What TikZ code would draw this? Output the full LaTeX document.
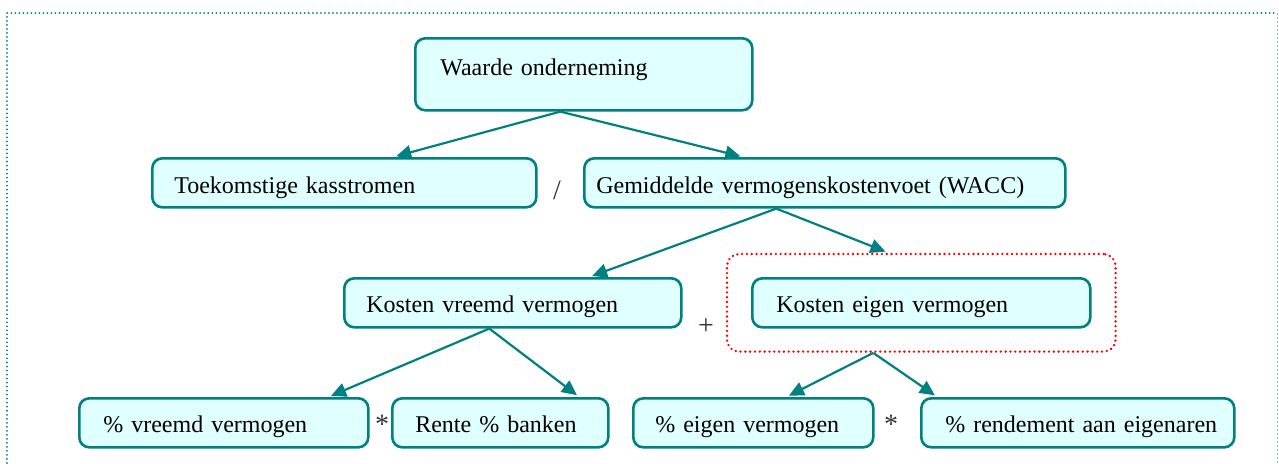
\documentclass[tikz,border=0pt]{standalone}
\usepackage{fontspec}
\setmainfont{Liberation Serif}
\usetikzlibrary{arrows.meta,fit}
\definecolor{tealc}{HTML}{008080}
\definecolor{cyanc}{HTML}{E0FFFF}
\definecolor{tealfaint}{HTML}{80C0C0}
\begin{document}
\begin{tikzpicture}[x=0.5pt,y=-0.5pt,
  box/.style={draw=tealc, fill=cyanc, line width=1.3pt, rounded corners=5pt,
    inner ysep=0pt, inner xsep=0pt, anchor=north west, align=left,
    font=\fontsize{12}{14}\selectfont},
  lpad/.style={execute at begin node={\hspace*{#1}}},
  rowb/.style={text height=17.5pt, text depth=7pt},
  rowc/.style={text height=17pt, text depth=7.5pt},
  rowd/.style={text height=17pt, text depth=7.5pt},
  arr/.style={draw=tealc, line width=1.1pt, shorten >=1.5pt, -{Triangle[length=7.5pt,width=7pt]}},
  op/.style={font=\fontsize{14}{16}\selectfont, text=black!80, inner sep=0pt},
  framedots/.style={draw=tealc, line width=1pt, dash pattern=on 0.01pt off 2pt, line cap=round},
  framefaint/.style={draw=tealfaint, line width=0.5pt, dash pattern=on 1pt off 1pt},
  reddots/.style={draw=red, line width=1.3pt, dash pattern=on 0.01pt off 2.4pt, line cap=round}]
\useasboundingbox (0,0) rectangle (1279,463);
\draw[framedots] (7,463) -- (7,13) -- (1277,13);
\draw[framefaint] (1277,13) -- (1277,463);

\node[box, lpad=12.5pt, text width=168.5pt, text height=18.5pt, text depth=17.5pt] (w) at (414,37) {Waarde onderneming};
\node[box, rowb, lpad=11pt, text width=192pt] (t) at (151,157) {Toekomstige kasstromen};
\node[box, rowb, lpad=6pt, text width=240.5pt] (g) at (583,157) {Gemiddelde vermogenskostenvoet (WACC)};
\node[box, rowc, lpad=11pt, text width=168.5pt] (kv) at (343,277) {Kosten vreemd vermogen};
\node[box, rowc, lpad=12pt, text width=169pt] (ke) at (751,277) {Kosten eigen vermogen};
\node[box, rowd, lpad=12pt, text width=144.5pt] (pv) at (78,397) {\% vreemd vermogen};
\node[box, rowd, lpad=11.5pt, text width=108pt] (rb) at (391,397) {Rente \% banken};
\node[box, rowd, lpad=11pt, text width=120pt] (pe) at (632,397) {\% eigen vermogen};
\node[box, rowd, lpad=12pt, text width=156.5pt] (re) at (920,397) {\% rendement aan eigenaren};

\node[reddots, fit=(ke), inner xsep=12pt, inner ysep=11.5pt, rounded corners=6pt] (kr) {};

\node[op] (o1) at (557,190) {/};
\node[op] (o2) at (706,327) {+};
\node[op] (o3) at (382,424) {*};
\node[op] (o4) at (891,424) {*};

\draw[arr] ([xshift=-11.75pt]w.south) -- ([xshift=24.5pt]t.north);
\draw[arr] ([xshift=-11.75pt]w.south) -- ([xshift=-40.75pt]g.north);
\draw[arr] ([xshift=-24.25pt]g.south) -- ([xshift=38.25pt]kv.north);
\draw[arr] ([xshift=-24.25pt]g.south) -- ([xshift=-16.5pt]kr.north);
\draw[arr] ([xshift=-11.75pt]kv.south) -- ([xshift=52.25pt]pv.north);
\draw[arr] ([xshift=-11.75pt]kv.south) -- ([xshift=39.5pt]rb.north);
\draw[arr] ([xshift=-24pt]kr.south) -- ([xshift=16.5pt]pe.north);
\draw[arr] ([xshift=-24pt]kr.south) -- ([xshift=-70.25pt]re.north);
\end{tikzpicture}
\end{document}
